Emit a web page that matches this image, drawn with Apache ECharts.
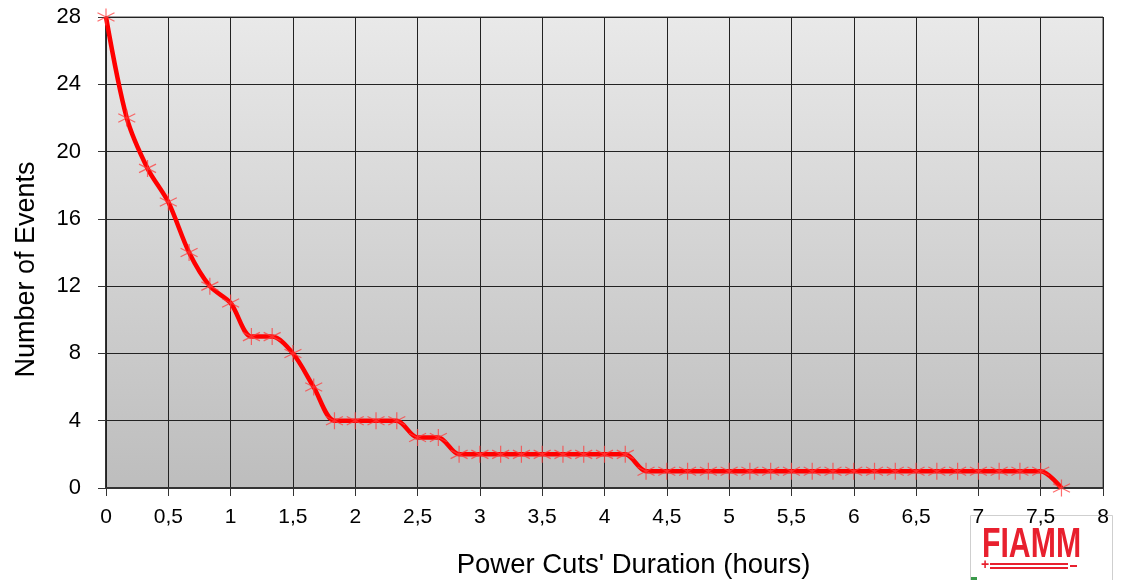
<!DOCTYPE html>
<html>
<head>
<meta charset="utf-8">
<script src="https://cdn.jsdelivr.net/npm/echarts@6/dist/echarts.min.js"></script>
<style>
  html, body { margin: 0; padding: 0; background: #fff; }
  #chart { width: 1124px; height: 580px; }
</style>
</head>
<body>
<div id="chart"></div>
<script>
// duration of the power cut, hours (10 minute steps)
const durations = [
  0, 0.1667, 0.3333, 0.5, 0.6667, 0.8333, 1, 1.1667, 1.3333, 1.5, 1.6667, 1.8333,
  2, 2.1667, 2.3333, 2.5, 2.6667, 2.8333, 3, 3.1667, 3.3333, 3.5, 3.6667, 3.8333,
  4, 4.1667, 4.3333, 4.5, 4.6667, 4.8333, 5, 5.1667, 5.3333, 5.5, 5.6667, 5.8333,
  6, 6.1667, 6.3333, 6.5, 6.6667, 6.8333, 7, 7.1667, 7.3333, 7.5, 7.6667
];
// number of events lasting at least that long
const events = [
  28, 22, 19, 17, 14, 12, 11, 9, 9, 8, 6, 4,
  4, 4, 4, 3, 3, 2, 2, 2, 2, 2, 2, 2,
  2, 2, 1, 1, 1, 1, 1, 1, 1, 1, 1, 1,
  1, 1, 1, 1, 1, 1, 1, 1, 1, 1, 0
];

const xName = "Power Cuts' Duration (hours)";
const yName = 'Number of Events';

const font = '"Liberation Sans", Arial, sans-serif';
const asterisk = 'path://M5,0L5,10M0.7,2.5L9.3,7.5M0.7,7.5L9.3,2.5';

const chart = echarts.init(document.getElementById('chart'));

const option = {
  backgroundColor: '#fff',
  animation: false,
  grid: {
    left: 106,
    right: 21,
    top: 17,
    bottom: 92,
    outerBoundsMode: 'none',
    containLabel: false,
    show: true,
    borderColor: '#444',
    borderWidth: 1,
    backgroundColor: new echarts.graphic.LinearGradient(0, 0, 0, 1, [
      {offset: 0, color: '#e9e9e9'},
      {offset: 1, color: '#bdbdbd'}
    ])
  },
  xAxis: {
    type: 'value',
    z: 10,
    min: 0,
    max: 8,
    interval: 0.5,
    name: xName,
    nameLocation: 'middle',
    nameGap: 63,
    nameTextStyle: {fontFamily: font, fontSize: 27.5, color: '#000', padding: [0, 0, 0, 58]},
    axisLine: {show: true, lineStyle: {color: '#333', width: 2}},
    axisTick: {show: true, length: 8, lineStyle: {color: '#333'}},
    axisLabel: {
      fontFamily: font, fontSize: 21, color: '#000', margin: 19,
      formatter: v => String(v).replace('.', ',')
    },
    splitLine: {show: true, lineStyle: {color: '#222', width: 1}}
  },
  yAxis: {
    type: 'value',
    min: 0,
    max: 28,
    interval: 4,
    name: yName,
    nameLocation: 'middle',
    nameGap: 66,
    nameTextStyle: {fontFamily: font, fontSize: 27, color: '#000', padding: [0, 34, 0, 0]},
    axisLine: {show: true, lineStyle: {color: '#333', width: 2}},
    axisTick: {show: true, length: 8, lineStyle: {color: '#333'}},
    axisLabel: {fontFamily: font, fontSize: 22, color: '#000', margin: 25},
    splitLine: {show: true, lineStyle: {color: '#222', width: 1}}
  },
  series: [{
    type: 'line',
    z: 12,
    data: durations.map((d, i) => [d, events[i]]),
    smooth: 0.3,
    symbol: asterisk,
    symbolSize: 17,
    showAllSymbol: true,
    lineStyle: {color: '#ff0000', width: 4.5},
    itemStyle: {color: 'none', borderColor: 'rgba(255,60,60,0.75)', borderWidth: 1.2}
  }],
  graphic: [
    {
      type: 'rect', left: 970, top: 515, z: 1,
      shape: {width: 142, height: 70},
      style: {fill: '#fff', stroke: '#cfcfcf', lineWidth: 1}
    },
    {
      type: 'text', x: 982, y: 524, z: 2, scaleX: 0.72,
      style: {text: 'FIAMM', fill: '#e8202e', font: 'bold 42px ' + font}
    },
    {
      type: 'rect', x: 990, y: 563, z: 2,
      shape: {width: 78, height: 2},
      style: {fill: '#e8202e'}
    },
    {
      type: 'rect', x: 990, y: 567, z: 2,
      shape: {width: 78, height: 2},
      style: {fill: '#e8202e'}
    },
    {
      type: 'text', x: 981, y: 558, z: 2,
      style: {text: '+', fill: '#e8202e', font: 'bold 14px ' + font}
    },
    {
      type: 'rect', x: 1070, y: 565, z: 2,
      shape: {width: 7, height: 2},
      style: {fill: '#e8202e'}
    },
    {
      type: 'rect', x: 971, y: 577, z: 2,
      shape: {width: 6, height: 4},
      style: {fill: '#3a9a4a'}
    }
  ]
};

chart.setOption(option);
</script>
</body>
</html>
